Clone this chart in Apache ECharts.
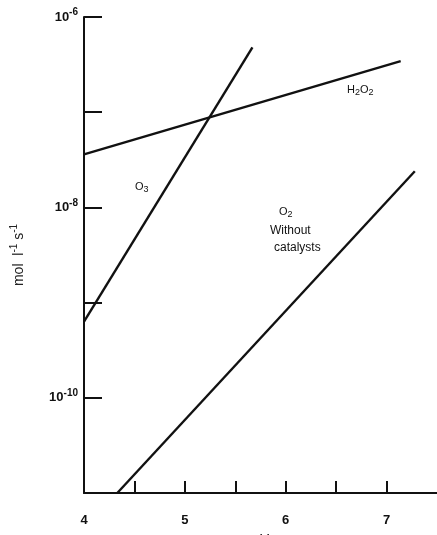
<!DOCTYPE html>
<html><head><meta charset="utf-8">
<script src="https://cdn.jsdelivr.net/npm/echarts@6/dist/echarts.min.js"></script>
<style>html,body{margin:0;padding:0;background:#fff}#c{width:437px;height:535px}</style>
</head><body><div id="c"></div>
<script>
const xTicks = [4.5, 5, 5.5, 6, 6.5, 7];
const xLabels = [4, 5, 6, 7];
const yLabelExps = [-6, -8, -10];
const h2o2PH = [4.0, 7.14];
const h2o2Val = [3.6e-8, 3.44e-7];
const o3PH = [4.0, 5.67];
const o3Val = [6.3e-10, 4.8e-7];
const o2PH = [4.33, 7.28];
const o2Val = [1.0e-11, 2.4e-8];

const pairs = (xs, ys) => xs.map((x, i) => [x, ys[i]]);
const font = 'Liberation Sans';
const lineStyle = {color: '#111', width: 2.4};

const chart = echarts.init(document.getElementById('c'), null, {renderer: 'canvas'});
chart.setOption({
  animation: false,
  backgroundColor: '#fff',
  grid: {left: 84, top: 17, right: 0, bottom: 42, containLabel: false, outerBoundsMode: 'none'},
  xAxis: {
    type: 'value', min: 4, max: 7.5,
    name: 'pH', nameLocation: 'middle', nameGap: 33,
    nameTextStyle: {fontFamily: font, fontSize: 15, color: '#111'},
    axisLine: {lineStyle: {color: '#111', width: 2}},
    axisTick: {inside: true, length: 12, customValues: xTicks, lineStyle: {color: '#111', width: 2}},
    axisLabel: {customValues: xLabels, margin: 21, fontFamily: font, fontSize: 13, fontWeight: 'bold', color: '#111'},
    splitLine: {show: false}
  },
  yAxis: {
    type: 'log', logBase: 10, min: 1e-11, max: 1e-6,
    name: '{n|mol  l}{s|-1}{n| s}{s|-1}', nameLocation: 'middle', nameGap: 55,
    nameTextStyle: {
      rich: {
        n: {fontFamily: font, fontSize: 14, color: '#222'},
        s: {fontFamily: font, fontSize: 10, color: '#222', padding: [0, 0, 10, 0]}
      }
    },
    axisLine: {show: true, lineStyle: {color: '#111', width: 2}},
    axisTick: {inside: true, length: 18, lineStyle: {color: '#111', width: 2}},
    axisLabel: {
      margin: 6,
      formatter: function (v) {
        const e = Math.round(Math.log10(v));
        if (yLabelExps.indexOf(e) < 0) return '';
        return '{b|10}{s|' + (e === -6 ? '-6' : e === -8 ? '-8' : '-10') + '}';
      },
      rich: {
        b: {fontFamily: font, fontSize: 13, fontWeight: 'bold', color: '#111'},
        s: {fontFamily: font, fontSize: 10, fontWeight: 'bold', color: '#111', padding: [0, 0, 9, 0]}
      }
    },
    splitLine: {show: false}
  },
  series: [
    {type: 'line', data: pairs(h2o2PH, h2o2Val), symbol: 'none', lineStyle: lineStyle},
    {type: 'line', data: pairs(o3PH, o3Val), symbol: 'none', lineStyle: lineStyle},
    {type: 'line', data: pairs(o2PH, o2Val), symbol: 'none', lineStyle: lineStyle}
  ],
  graphic: [
    {type: 'text', left: 347, top: 84, style: {text: '{n|H}{d|2}{n|O}{d|2}', rich: {
      n: {fontFamily: font, fontSize: 11, fill: '#111'}, d: {fontFamily: font, fontSize: 9, fill: '#111', padding: [6, 0, 0, 0]}}}},
    {type: 'text', left: 135, top: 181, style: {text: '{n|O}{d|3}', rich: {
      n: {fontFamily: font, fontSize: 11, fill: '#111'}, d: {fontFamily: font, fontSize: 9, fill: '#111', padding: [6, 0, 0, 0]}}}},
    {type: 'text', left: 279, top: 206, style: {text: '{n|O}{d|2}', rich: {
      n: {fontFamily: font, fontSize: 11, fill: '#111'}, d: {fontFamily: font, fontSize: 9, fill: '#111', padding: [6, 0, 0, 0]}}}},
    {type: 'text', left: 270, top: 225, style: {text: 'Without', font: '12px "Liberation Sans"', fill: '#111'}},
    {type: 'text', left: 274, top: 242, style: {text: 'catalysts', font: '12px "Liberation Sans"', fill: '#111'}}
  ]
});
</script>
</body></html>
